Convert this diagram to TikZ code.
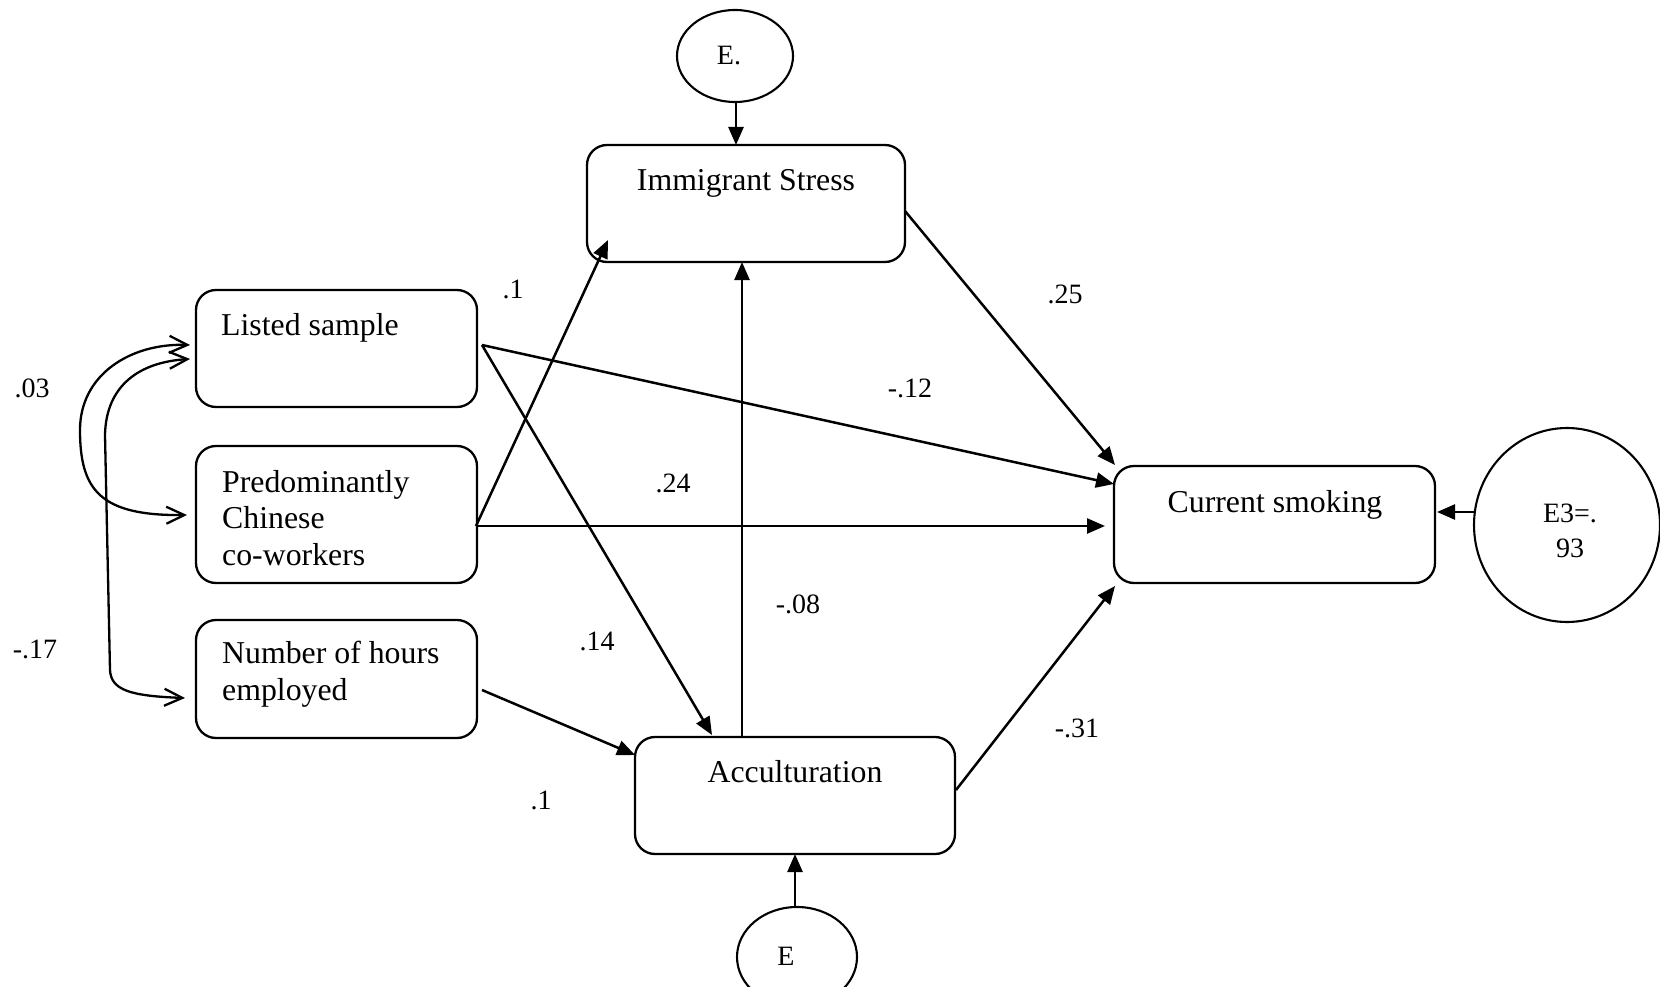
\documentclass[tikz,border=0pt]{standalone}
\usepackage{fontspec}
\setmainfont{Liberation Serif}
\usetikzlibrary{arrows.meta,shapes.geometric}
\begin{document}
\begin{tikzpicture}[x=1pt,y=-1pt,
  box/.style={draw,line width=2.3pt,rounded corners=20pt,inner sep=0pt,rectangle},
  err/.style={draw,line width=2.1pt,ellipse,inner sep=0pt},
  txt/.style={inner sep=0pt,anchor=base west,font=\fontsize{31.8}{36.5}\selectfont},
  ctxt/.style={inner sep=0pt,anchor=base,font=\fontsize{31.8}{36.5}\selectfont},
  etxt/.style={inner sep=0pt,anchor=base,font=\fontsize{28}{32}\selectfont},
  lab/.style={inner sep=0pt,anchor=base,font=\fontsize{28}{32}\selectfont},
  arr/.style={line width=2.5pt,-{Triangle[length=18pt,width=15pt]}},
  cov/.style={line width=2.3pt,{Straight Barb[length=18pt,width=17pt]}-{Straight Barb[length=18pt,width=17pt]}},
]
\useasboundingbox (0,0) rectangle (1660,987);

% boxes
\node[box,minimum width=281pt,minimum height=117pt] (ls) at (336.5,348.5) {};
\node[box,minimum width=281pt,minimum height=137pt] (pc) at (336.5,514.5) {};
\node[box,minimum width=281pt,minimum height=118pt] (nh) at (336.5,679) {};
\node[box,minimum width=318pt,minimum height=117pt] (is) at (746,203.5) {};
\node[box,minimum width=321pt,minimum height=117pt] (cs) at (1274.5,524.5) {};
\node[box,minimum width=320pt,minimum height=117pt] (acc) at (795,795.5) {};

% box texts
\node[txt] (lst) at (221,335) {Listed sample};
\node[txt] (pct1) at (222,492) {Predominantly};
\node[txt] (pct2) at (222,528) {Chinese};
\node[txt] (pct3) at (222,565) {co-workers};
\node[txt] (nht1) at (222,663) {Number of hours};
\node[txt] (nht2) at (222,700) {employed};
\node[ctxt] (ist) at (746,191) {Immigrant Stress};
\node[ctxt] (cst) at (1275,512) {Current smoking};
\node[ctxt] (acct) at (795,782) {Acculturation};

% error terms
\node[err,minimum width=116pt,minimum height=92pt] (e1) at (735,56) {};
\node[etxt] (e1t) at (729,65) {E.};
\node[err,minimum width=120pt,minimum height=100pt] (e2) at (797,957) {};
\node[etxt] (e2t) at (786,965) {E};
\node[err,minimum width=186pt,minimum height=194pt] (e3) at (1567,525) {};
\node[etxt] (e3t1) at (1570,522) {E3=.};
\node[etxt] (e3t2) at (1570,557) {93};

% connector end points
\coordinate (lso) at (482,345);
\coordinate (pco) at (476,526);
\coordinate (nho) at (482,690);
\coordinate (csa) at (1114,484);
\coordinate (csb) at (1105,526);
\coordinate (csc) at (1115,465);
\coordinate (csd) at (1115,586);
\coordinate (cse) at (1437,512);
\coordinate (e3o) at (1474,512);
\coordinate (acca) at (712,735);
\coordinate (accb) at (635,755);
\coordinate (acco) at (742,737);
\coordinate (accr) at (956,790);
\coordinate (isa) at (608,240);
\coordinate (isb) at (742,262);
\coordinate (iso) at (905,211);
\coordinate (e1o) at (736,102);
\coordinate (isc) at (736,145);
\coordinate (e2o) at (795,907);
\coordinate (accc) at (795,854);

\draw[arr] (lso) -- (csa);
\draw[arr] (lso) -- (acca);
\draw[arr] (pco) -- (isa);
\draw[arr] (pco) -- (csb);
\draw[arr] (nho) -- (accb);
\draw[arr] (acco) -- (isb);
\draw[arr] (iso) -- (csc);
\draw[arr] (accr) -- (csd);
\draw[arr] (e1o) -- (isc);
\draw[arr] (e2o) -- (accc);
\draw[arr] (e3o) -- (cse);

% covariances
\coordinate (lsa) at (190,345);
\coordinate (lsb) at (190,359);
\coordinate (pca) at (187,515);
\coordinate (nha) at (185,698);
\draw[cov] (lsa) .. controls (130,343) and (80,375) .. (80,430)
  .. controls (80,490) and (100,516) .. (pca);
\draw[cov] (lsb) .. controls (140,362) and (106,385) .. (105,435)
  -- (110,670) .. controls (111,690) and (130,696) .. (nha);

% labels
\node[lab] (l03) at (32,397) {.03};
\node[lab] (l17) at (35,658) {-.17};
\node[lab] (l1a) at (513,298) {.1};
\node[lab] (l25) at (1065,303) {.25};
\node[lab] (l12) at (910,397) {-.12};
\node[lab] (l24) at (673,492) {.24};
\node[lab] (l08) at (798,613) {-.08};
\node[lab] (l14) at (597,650) {.14};
\node[lab] (l31) at (1077,737) {-.31};
\node[lab] (l1b) at (541,809) {.1};
\end{tikzpicture}
\end{document}
